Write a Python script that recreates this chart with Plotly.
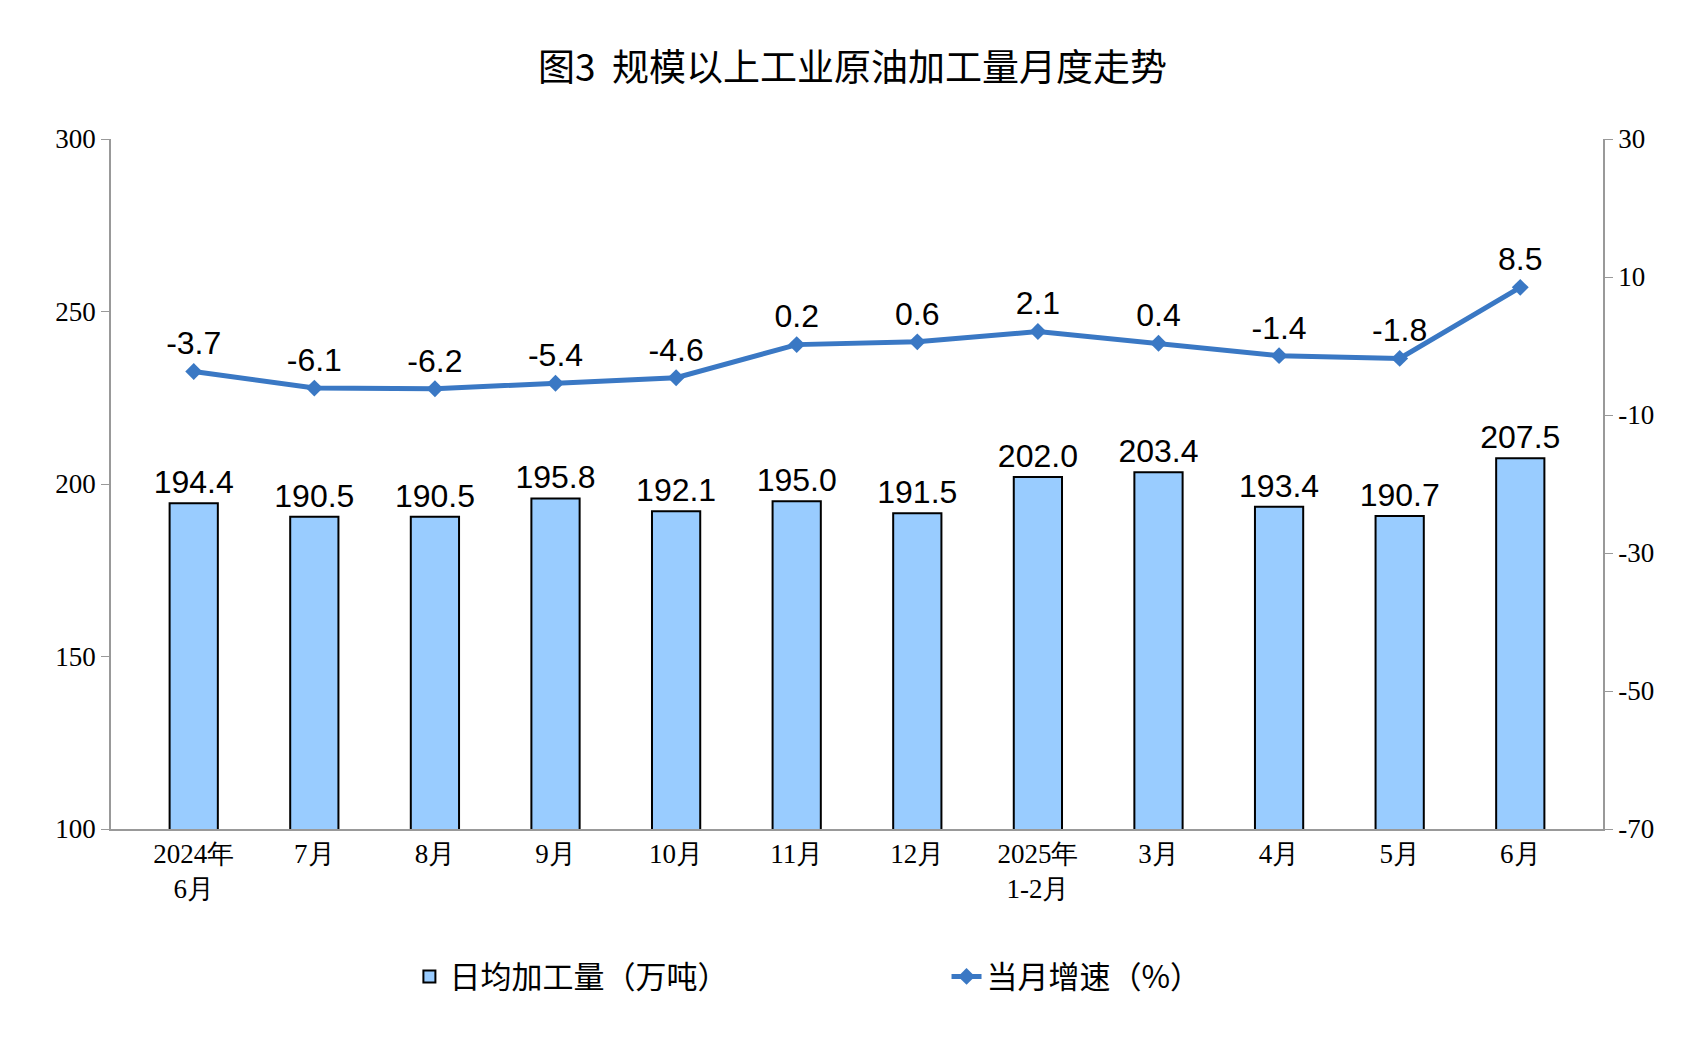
import plotly.graph_objects as go

months = ["2024年<br>6月", "7月", "8月", "9月", "10月", "11月", "12月",
          "2025年<br>1-2月", "3月", "4月", "5月", "6月"]
output = [194.4, 190.5, 190.5, 195.8, 192.1, 195.0, 191.5, 202.0, 203.4, 193.4, 190.7, 207.5]
growth = [-3.7, -6.1, -6.2, -5.4, -4.6, 0.2, 0.6, 2.1, 0.4, -1.4, -1.8, 8.5]
left_ticks = [100, 150, 200, 250, 300]
right_ticks = [-70, -50, -30, -10, 10, 30]

fig = go.Figure()
fig.add_trace(go.Bar(
    x=months, y=output, name="日均加工量（万吨）", width=0.4,
    marker=dict(color="#99CCFF", line=dict(color="black", width=2)),
    text=[f"{v:.1f}" for v in output], textposition="outside",
    textfont=dict(family="Liberation Sans", size=32, color="black"),
    constraintext="none", cliponaxis=False, legend="legend",
))
fig.add_trace(go.Scatter(
    x=months, y=growth, name="当月增速（%）", yaxis="y2",
    mode="lines+markers+text",
    line=dict(color="#3A78C4", width=5),
    marker=dict(symbol="diamond", size=13, color="#3A78C4"),
    text=[f"{v:.1f}" for v in growth], textposition="top center",
    textfont=dict(family="Liberation Sans", size=32, color="black"),
    cliponaxis=False, legend="legend2",
))

axis_font = dict(family="Liberation Serif", size=27, color="black")
leg_font = dict(family="Noto Sans CJK SC", size=31, color="black")
fig.update_layout(
    width=1689, height=1056,
    plot_bgcolor="white", paper_bgcolor="white",
    title=dict(text="图3  规模以上工业原油加工量月度走势", x=0.5, y=0.955, xanchor="center",
               font=dict(family="Noto Sans CJK SC", size=37, color="black")),
    margin=dict(l=103, r=94, t=131, b=235),
    xaxis=dict(tickfont=axis_font, showline=True, linecolor="#999", linewidth=1.5,
               ticks="", showgrid=False),
    yaxis=dict(range=[100, 300], tickvals=left_ticks, tickfont=axis_font, showline=True,
               linecolor="#999", linewidth=1.5, ticks="outside", tickcolor="#999",
               ticklen=8, showgrid=False, zeroline=False),
    yaxis2=dict(range=[-70, 30], tickvals=right_ticks, ticktext=[str(v) for v in right_ticks],
                overlaying="y", side="right",
                tickfont=axis_font, showline=True, linecolor="#999", linewidth=1.5,
                ticks="outside", tickcolor="#999", ticklen=8, showgrid=False,
                zeroline=False),
    showlegend=True,
    legend=dict(x=0.2, xanchor="left", y=-0.175, yanchor="top", font=leg_font),
    legend2=dict(x=0.56, xanchor="left", y=-0.175, yanchor="top", font=leg_font),
)
fig.write_html("out.html")
